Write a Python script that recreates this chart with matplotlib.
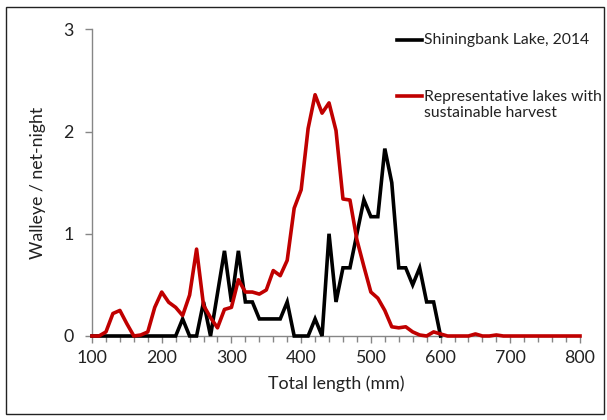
import matplotlib
matplotlib.use("Agg")
import matplotlib.pyplot as plt
from matplotlib.lines import Line2D
from matplotlib.patches import Rectangle
import numpy as np

# Data
red_lengths = list(range(100, 810, 10))
red_values = [0, 0, 0.04, 0.22, 0.25, 0.12, 0, 0.01, 0.04, 0.28,
              0.43, 0.33, 0.28, 0.2, 0.4, 0.85, 0.3, 0.18, 0.08, 0.26,
              0.28, 0.55, 0.43, 0.43, 0.41, 0.45, 0.64, 0.59, 0.74, 1.25,
              1.43, 2.03, 2.36, 2.18, 2.28, 2.01, 1.34, 1.33, 0.94, 0.68,
              0.43, 0.37, 0.25, 0.09, 0.08, 0.09, 0.04, 0.01, 0.0, 0.04,
              0.02, 0, 0, 0, 0, 0.02, 0, 0, 0.01, 0,
              0, 0, 0, 0, 0, 0, 0, 0, 0, 0, 0]
black_lengths = list(range(100, 610, 10))
black_values = [0, 0, 0, 0, 0, 0, 0, 0, 0, 0,
                0, 0, 0, 0.167, 0, 0, 0.333, 0, 0.417, 0.833,
                0.333, 0.833, 0.333, 0.333, 0.167, 0.167, 0.167, 0.167, 0.333, 0,
                0, 0, 0.167, 0, 1.0, 0.333, 0.667, 0.667, 1.0, 1.333,
                1.167, 1.167, 1.833, 1.5, 0.667, 0.667, 0.5, 0.667, 0.333, 0.333,
                0]
x_ticks = [100, 200, 300, 400, 500, 600, 700, 800]
y_ticks = [0, 1, 2, 3]
black_label = "Shiningbank Lake, 2014"
red_label = "Representative lakes with\nsustainable harvest"
x_title = "Total length (mm)"
y_title = "Walleye / net-night"

plt.rcParams['font.family'] = ['Lato', 'DejaVu Sans']
W, H = 607, 420
fig = plt.figure(figsize=(W / 100, H / 100), dpi=100)
fig.patch.set_facecolor('white')

# Outer frame
fig.add_artist(Rectangle((6 / W, 1 - 414 / H), (604 - 6) / W, (414 - 7) / H,
                         transform=fig.transFigure, fill=False,
                         edgecolor='#222222', linewidth=1.0))

ax = fig.add_axes([92 / W, 1 - 336 / H, (580 - 92) / W, (336 - 29.3) / H])
ax.set_xlim(100, 800)
ax.set_ylim(0, 3)

axis_gray = '#868686'
for s in ['top', 'right']:
    ax.spines[s].set_visible(False)
for s in ['left', 'bottom']:
    ax.spines[s].set_color(axis_gray)
    ax.spines[s].set_linewidth(1.0)

ax.plot(black_lengths, black_values, color='black', lw=2.6, zorder=3,
        solid_joinstyle='miter', clip_on=False)
ax.plot(red_lengths, red_values, color='#C00000', lw=2.6, zorder=4,
        solid_joinstyle='round', clip_on=False)

ax.set_xticks(x_ticks)
ax.set_xticks(np.arange(100, 801, 20), minor=True)
ax.set_yticks(y_ticks)
ax.tick_params(axis='both', which='both', direction='out', color=axis_gray,
               width=1.0, labelsize=12.8, labelcolor='#222222')
ax.tick_params(axis='x', which='major', length=5, pad=5)
ax.tick_params(axis='x', which='minor', length=4)
ax.tick_params(axis='y', which='major', length=5, pad=8)

ax.set_xlabel(x_title, fontsize=12.8, color='#222222', labelpad=7)
ax.set_ylabel(y_title, fontsize=12.8, color='#222222', labelpad=13)

# Legend (manual)
fig.add_artist(Line2D([397 / W, 422 / W], [1 - 40 / H, 1 - 40 / H],
                      transform=fig.transFigure, color='black', lw=2.6))
fig.text(424 / W, 1 - 40 / H, black_label, fontsize=11.3, color='#222222',
         va='center', ha='left')
fig.add_artist(Line2D([397 / W, 422 / W], [1 - 96 / H, 1 - 96 / H],
                      transform=fig.transFigure, color='#C00000', lw=2.6))
fig.text(424 / W, 1 - 105 / H, red_label, fontsize=11.3, color='#222222',
         va='center', ha='left', linespacing=1.25)

fig.savefig('out.png', dpi=100)
